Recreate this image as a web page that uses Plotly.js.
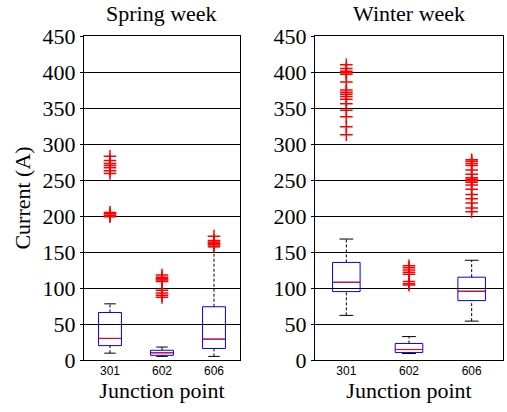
<!DOCTYPE html>
<html>
<head>
<meta charset="utf-8">
<script src="https://cdn.plot.ly/plotly-3.0.1.min.js"></script>
<style>html,body{margin:0;padding:0;background:#fff}#chart{width:507px;height:412px}</style>
</head>
<body>
<div id="chart"></div>
<script>
// Categories (junction points)
const categories = ['301', '602', '606'];

// Spring week: box statistics
const springQ1 = [20, 6.5, 16];
const springMedian = [30, 10, 29];
const springQ3 = [66, 13.5, 74];
const springLowWhisker = [9.5, 5, 5];
const springHighWhisker = [78, 18, 157];
// Spring week outliers per category
const springOut301 = [283, 277, 273, 270, 267, 263, 259, 205, 203, 201, 199];
const springOut602 = [118, 115, 113, 111, 109, 97, 93, 90, 87];
const springOut606 = [172, 166, 164, 162, 160, 158];

// Winter week: box statistics
const winterQ1 = [95, 10.5, 82.5];
const winterMedian = [108, 14.5, 95.5];
const winterQ3 = [135.5, 23, 115];
const winterLowWhisker = [62, 9, 54];
const winterHighWhisker = [168, 32.5, 138.5];
// Winter week outliers per category
const winterOut301 = [410, 405, 401, 399, 397, 386, 375, 372, 369, 366, 362, 356, 347, 338, 324, 313];
const winterOut602 = [131, 128, 125, 122, 119, 109, 106, 104];
const winterOut606 = [278, 276, 273, 270, 264, 258, 253, 251, 249, 247, 243, 237, 230, 224, 218, 211, 206];

const yTicks = [0, 50, 100, 150, 200, 250, 300, 350, 400, 450];

const BOX_HALF = 0.22, CAP_HALF = 0.11;
const serif = 'Liberation Serif';
const sans = 'Liberation Sans';
const BIG = 22;

function panelTraces(xa, ya, q1, med, q3, lo, hi, outs) {
  const pos = categories.map((c, i) => i + 1);
  const traces = [];
  const wx = [], wy = [], cx = [], cy = [], mx = [], my = [];
  pos.forEach((p, i) => {
    wx.push(p, p, null, p, p, null);
    wy.push(q3[i], hi[i], null, lo[i], q1[i], null);
    cx.push(p - CAP_HALF, p + CAP_HALF, null, p - CAP_HALF, p + CAP_HALF, null);
    cy.push(hi[i], hi[i], null, lo[i], lo[i], null);
    mx.push(p - BOX_HALF, p + BOX_HALF, null);
    my.push(med[i], med[i], null);
  });
  traces.push({type: 'scatter', mode: 'lines', x: wx, y: wy, xaxis: xa, yaxis: ya,
    line: {color: 'black', width: 1, dash: '3px,2px'}, hoverinfo: 'skip', showlegend: false});
  traces.push({type: 'scatter', mode: 'lines', x: cx, y: cy, xaxis: xa, yaxis: ya,
    line: {color: 'black', width: 1}, hoverinfo: 'skip', showlegend: false});
  traces.push({type: 'box', x: pos, q1: q1, median: med, q3: q3, lowerfence: q1, upperfence: q3,
    width: 2 * BOX_HALF, whiskerwidth: 0, boxpoints: false, xaxis: xa, yaxis: ya,
    line: {color: 'blue', width: 1}, fillcolor: 'rgba(0,0,0,0)', showlegend: false});
  traces.push({type: 'scatter', mode: 'lines', x: mx, y: my, xaxis: xa, yaxis: ya,
    line: {color: 'red', width: 1}, hoverinfo: 'skip', showlegend: false});
  outs.forEach((arr, i) => {
    traces.push({type: 'scatter', mode: 'markers', x: arr.map(() => pos[i]), y: arr,
      xaxis: xa, yaxis: ya, showlegend: false,
      marker: {symbol: 'cross-thin', size: 9, line: {color: 'red', width: 1.5}, color: 'red'}});
  });
  return traces;
}

const data = [].concat(
  panelTraces('x', 'y', springQ1, springMedian, springQ3, springLowWhisker, springHighWhisker,
    [springOut301, springOut602, springOut606]),
  panelTraces('x2', 'y2', winterQ1, winterMedian, winterQ3, winterLowWhisker, winterHighWhisker,
    [winterOut301, winterOut602, winterOut606])
);

const W = 507, H = 412;
const yDom = [1 - 360 / H, 1 - 36 / H];
const x1Dom = [84 / W, 240 / W];
const x2Dom = [315 / W, 503 / W];

function xAxis(dom, anchor) {
  return {domain: dom, anchor: anchor, range: [0.5, 3.5], tickvals: [1, 2, 3], ticktext: categories,
    ticks: '', showgrid: false, zeroline: false, showline: true, mirror: true, linecolor: 'black', linewidth: 1,
    tickfont: {family: sans, size: 12, color: 'black'},
    title: {text: 'Junction point', font: {family: serif, size: BIG, color: 'black'}, standoff: 2}};
}
function yAxis(anchor, withTitle) {
  const ax = {domain: yDom, anchor: anchor, range: [0, 450], tickvals: yTicks, ticktext: yTicks.map(String),
    showgrid: true, gridcolor: 'black', gridwidth: 1, zeroline: false,
    ticks: 'outside', ticklen: 3, tickcolor: 'black', showline: true, mirror: true,
    linecolor: 'black', linewidth: 1, tickfont: {family: serif, size: BIG, color: 'black'}};
  if (withTitle) ax.title = {text: 'Current (A)', font: {family: serif, size: BIG, color: 'black'}, standoff: 5};
  return ax;
}

const layout = {
  width: W, height: H, margin: {l: 0, r: 0, t: 0, b: 0},
  paper_bgcolor: 'white', plot_bgcolor: 'white', showlegend: false,
  font: {family: serif, color: 'black'},
  xaxis: xAxis(x1Dom, 'y'), yaxis: yAxis('x', true),
  xaxis2: xAxis(x2Dom, 'y2'), yaxis2: yAxis('x2', false),
  annotations: [
    {text: 'Spring week', xref: 'paper', yref: 'paper', x: (x1Dom[0] + x1Dom[1]) / 2, y: 1 - 14 / H,
      xanchor: 'center', yanchor: 'middle', showarrow: false, font: {family: serif, size: BIG, color: 'black'}},
    {text: 'Winter week', xref: 'paper', yref: 'paper', x: (x2Dom[0] + x2Dom[1]) / 2, y: 1 - 14 / H,
      xanchor: 'center', yanchor: 'middle', showarrow: false, font: {family: serif, size: BIG, color: 'black'}}
  ]
};

Plotly.newPlot('chart', data, layout, {displayModeBar: false, staticPlot: true});
</script>
</body>
</html>
